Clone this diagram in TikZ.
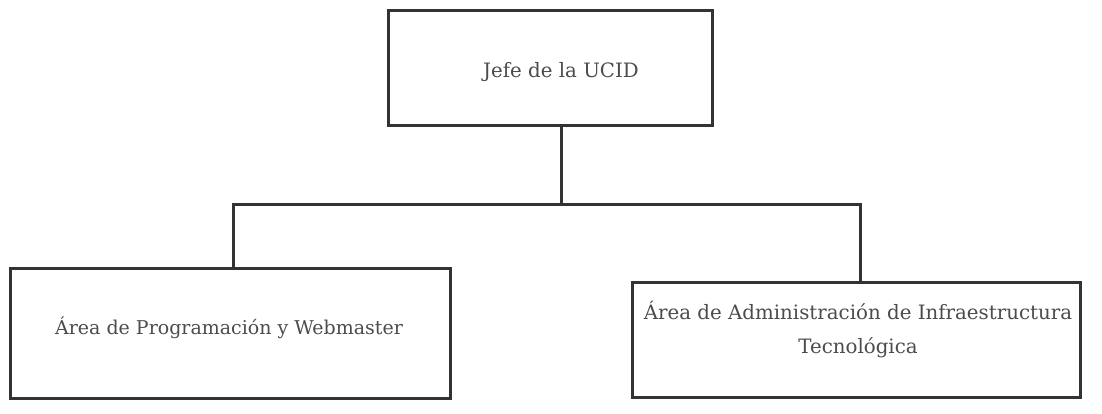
\documentclass[tikz,border=0pt]{standalone}
\usepackage{fontspec}
\setmainfont{DejaVu Serif}
\begin{document}
\begin{tikzpicture}[x=1pt,y=-1pt,
  box/.style={draw=black!80,line width=3pt,rectangle,inner sep=0pt},
  conn/.style={draw=black!80,line width=3pt},
  lbl/.style={text=black!70,font=\fontsize{19.8}{34}\selectfont,align=center,inner sep=0pt}]
\useasboundingbox (0,0) rectangle (1102,413);
\fill[white] (0,0) rectangle (1102,413);
\node[box,minimum width=324pt,minimum height=115pt] (jefe) at (550,67.5) {};
\node[lbl] (tj) at (561,72) {Jefe de la UCID};
\node[box,minimum width=440pt,minimum height=130pt] (prog) at (230,333) {};
\node[lbl,font=\fontsize{19}{34}\selectfont] (tp) at (229,328) {Área de Programación y Webmaster};
\node[box,minimum width=448pt,minimum height=115pt] (admin) at (856,339.5) {};
\node[lbl] (ta) at (858,330) {Área de Administración de Infraestructura\\Tecnológica};
\coordinate (bus) at (561,204);
\draw[conn] (jefe.south -| bus) -- (bus);
\draw[conn] (prog.north -| 233,0) |- (bus) -| (admin.north -| 860,0);
\end{tikzpicture}
\end{document}
